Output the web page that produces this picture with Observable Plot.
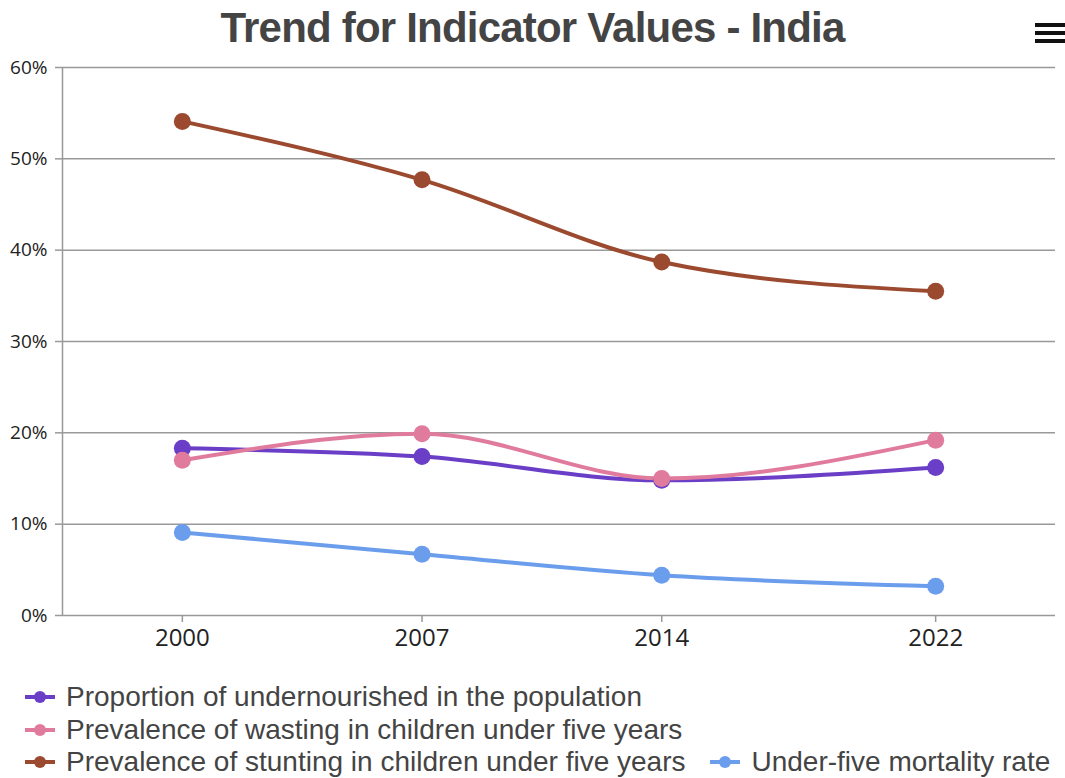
<!DOCTYPE html>
<html>
<head>
<meta charset="utf-8">
<script src="https://cdn.jsdelivr.net/npm/d3@7"></script>
<script src="https://cdn.jsdelivr.net/npm/@observablehq/plot@0.6"></script>
<style>
  html, body { margin: 0; padding: 0; background: #fff; }
  #wrap { position: relative; width: 1065px; height: 778px; overflow: hidden; }
  #title { position: absolute; top: 0; left: 0; width: 1065px; height: 56px; line-height: 56px; text-align: center;
    font-family: "Liberation Sans", Arial, sans-serif; font-weight: bold; font-size: 42px; letter-spacing: -0.8px; color: #444; }
  #menu { position: absolute; top: 23px; left: 1035px; width: 30px; }
  #menu div { height: 4px; background: #111; margin-bottom: 4px; }
  #chart { position: absolute; top: 55px; left: 0; }
  #legend { position: absolute; top: 681px; left: 25px; width: 1040px; display: flex; flex-wrap: wrap; column-gap: 25px;
    font-family: "Liberation Sans", Arial, sans-serif; font-size: 28px; color: #444; }
  .item { display: flex; align-items: center; height: 32.5px; white-space: nowrap; }
  .sym { position: relative; width: 30px; height: 20px; margin-right: 11px; }
  .sym .ln { position: absolute; left: 0; top: 8px; width: 30px; height: 4px; }
  .sym .dt { position: absolute; left: 9px; top: 4px; width: 12px; height: 12px; border-radius: 50%; }
</style>
</head>
<body>
<div id="wrap">
  <div id="title"></div>
  <div id="menu"><div></div><div></div><div></div></div>
  <div id="chart"></div>
  <div id="legend"></div>
</div>
<script>
const titleText = "Trend for Indicator Values - India";
const years = [2000, 2007, 2014, 2022];
const seriesNames = [
  "Proportion of undernourished in the population",
  "Prevalence of wasting in children under five years",
  "Prevalence of stunting in children under five years",
  "Under-five mortality rate"
];
const undernourished = [18.3, 17.4, 14.8, 16.2];
const wasting = [17.0, 19.9, 15.0, 19.2];
const stunting = [54.1, 47.7, 38.7, 35.5];
const mortality = [9.1, 6.7, 4.4, 3.2];
const colors = ["#6a3ec6", "#e07b9d", "#9b4a2f", "#6b9ded"];
const yTicks = [0, 10, 20, 30, 40, 50, 60];
const xDomain = [1996.5, 2025.5];

const seriesValues = [undernourished, wasting, stunting, mortality];
const data = [];
seriesValues.forEach((vals, i) => {
  vals.forEach((v, j) => data.push({series: seriesNames[i], year: years[j], value: v}));
});

document.getElementById("title").textContent = titleText;

const chart = Plot.plot({
  width: 1065,
  height: 620,
  marginTop: 12,
  marginBottom: 60,
  marginLeft: 62,
  marginRight: 10,
  style: {fontFamily: "'Open Sans', 'Noto Sans', sans-serif", background: "#fff"},
  x: {type: "linear", domain: xDomain},
  y: {domain: [0, 60]},
  color: {domain: seriesNames, range: colors},
  marks: [
    Plot.gridY(yTicks, {stroke: "#999", strokeOpacity: 1, strokeWidth: 1.5}),
    Plot.ruleX([xDomain[0]], {y1: 0, y2: 60, stroke: "#999", strokeWidth: 1.5}),
    Plot.axisY(yTicks, {tickSize: 7, tickPadding: 8, fontSize: 19, fill: "#222", stroke: "#999", strokeWidth: 1.5,
      tickFormat: d => d + "%", label: null}),
    Plot.axisX(years, {tickSize: 7, tickPadding: 6, fontSize: 24, fill: "#222", stroke: "#999", strokeWidth: 1.5,
      tickFormat: d => String(d), label: null}),
    Plot.line(data, {x: "year", y: "value", z: "series", stroke: "series", strokeWidth: 4, curve: "monotone-x"}),
    Plot.dot(data, {x: "year", y: "value", fill: "series", r: 8.5, stroke: "none"})
  ]
});
document.getElementById("chart").appendChild(chart);

const legend = document.getElementById("legend");
seriesNames.forEach((name, i) => {
  const item = document.createElement("div");
  item.className = "item";
  item.innerHTML = `<div class="sym"><div class="ln" style="background:${colors[i]}"></div><div class="dt" style="background:${colors[i]}"></div></div><span></span>`;
  item.querySelector("span").textContent = name;
  legend.appendChild(item);
});
</script>
</body>
</html>
